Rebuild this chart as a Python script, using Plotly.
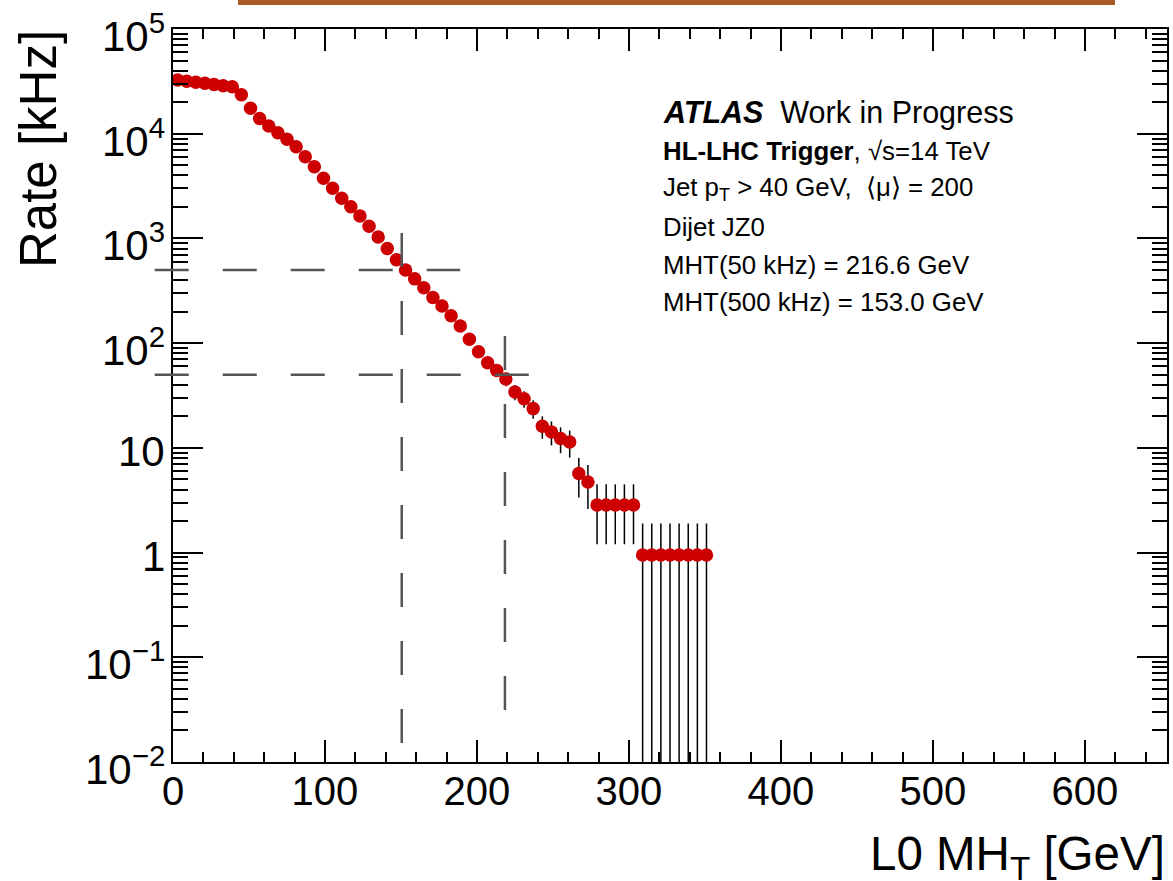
import math
import plotly.graph_objects as go

# ---------------- data ----------------
mht_bin_centers = [3, 9, 15, 21, 27, 33, 39, 45, 51, 57, 63, 69, 75, 81, 87, 93, 99,
                   105, 111, 117, 123, 129, 135, 141, 147, 153, 159, 165, 171, 177,
                   183, 189, 195, 201, 207, 213, 219, 225, 231, 237, 243, 249, 255,
                   261, 267, 273, 279, 285, 291, 297, 303, 309, 315, 321, 327, 333,
                   339, 345, 351]
rate_khz = [32600, 31800, 31000, 30300, 29600, 28700, 28100, 23600, 17500, 14000,
            11850, 10200, 8850, 7520, 6030, 4840, 3750, 3010, 2420, 2010, 1640, 1310,
            1030, 800, 626, 499, 411, 338, 273, 226, 183, 146, 109, 82.8, 65.0, 54.7,
            45.4, 34.1, 29.5, 23.7, 16.1, 14.2, 12.3, 11.35, 5.68, 4.73,
            2.84, 2.84, 2.84, 2.84, 2.84,
            0.946, 0.946, 0.946, 0.946, 0.946, 0.946, 0.946, 0.946]
rate_err_khz = [175.6, 173.4, 171.2, 169.3, 167.3, 164.8, 163.0, 149.4, 128.7, 115.1,
                105.9, 98.2, 91.5, 84.3, 75.5, 67.7, 59.6, 53.4, 47.8, 43.6, 39.4, 35.2,
                31.2, 27.5, 24.3, 21.7, 19.7, 17.9, 16.1, 14.6, 13.2, 11.8, 10.2, 8.85,
                7.84, 7.19, 6.55, 5.68, 5.28, 4.73, 3.90, 3.66, 3.41, 3.28, 2.32, 2.12,
                1.64, 1.64, 1.64, 1.64, 1.64,
                0.946, 0.946, 0.946, 0.946, 0.946, 0.946, 0.946, 0.946]

# y-axis tick labels (decades)
y_tick_exponents = [-2, -1, 0, 1, 2, 3, 4, 5]
y_tick_labels = ["10<sup>−2</sup>", "10<sup>−1</sup>", "1", "10",
                 "10<sup>2</sup>", "10<sup>3</sup>", "10<sup>4</sup>", "10<sup>5</sup>"]

# threshold guide lines (as drawn in the reference)
rate_thresholds_khz = [500, 50]
threshold_line_x_start = -12.0          # GeV (line starts a bit left of the axis)
threshold_line_x_end = [189.0, 238.0]   # GeV
mht_cut_positions = [150.5, 218.4]      # GeV
mht_cut_y_top = [1127, 117]             # kHz
mht_cut_y_bottom = [0.0145, 0.0313]     # kHz

info_lines = [
    "<b><i>ATLAS</i></b>  Work in Progress",
    "<b>HL-LHC Trigger</b>, √s=14 TeV",
    "Jet p<sub>T</sub> > 40 GeV,  ⟨μ⟩ = 200",
    "Dijet JZ0",
    "MHT(50 kHz) = 216.6 GeV",
    "MHT(500 kHz) = 153.0 GeV",
]

X_RANGE = [0, 654]
Y_LOG_RANGE = [-2.0003, 5.0003]

# ---------------- layout geometry ----------------
W, H = 1173, 881
ML, MR, MT, MB = 173, 6, 29, 119
PW = W - ML - MR
PH = H - MT - MB


def px_to_paper_x(px):
    return (px - ML) / PW


def px_to_paper_y(py):
    return (H - MB - py) / PH


def gev_to_paper_x(v):
    return (v - X_RANGE[0]) / (X_RANGE[1] - X_RANGE[0])


def rate_to_paper_y(v):
    return (math.log10(v) - Y_LOG_RANGE[0]) / (Y_LOG_RANGE[1] - Y_LOG_RANGE[0])


FONT = "Liberation Sans, Arial, Helvetica, sans-serif"
DASH = "34px,34px"
GUIDE_COLOR = "#555555"

fig = go.Figure()
fig.add_trace(go.Scatter(
    x=mht_bin_centers, y=rate_khz, mode="markers",
    marker=dict(symbol="circle", size=13.5, color="#CC0000", line=dict(width=0)),
    error_y=dict(type="data", array=rate_err_khz, arrayminus=rate_err_khz,
                 symmetric=False, color="black", thickness=1.5, width=0),
    showlegend=False,
))

shapes = []
for rate, xend in zip(rate_thresholds_khz, threshold_line_x_end):
    yp = rate_to_paper_y(rate)
    shapes.append(dict(type="line", xref="paper", yref="paper",
                       x0=gev_to_paper_x(threshold_line_x_start), x1=gev_to_paper_x(xend),
                       y0=yp, y1=yp,
                       line=dict(color=GUIDE_COLOR, width=2.5, dash=DASH)))
for xc, yt, yb in zip(mht_cut_positions, mht_cut_y_top, mht_cut_y_bottom):
    shapes.append(dict(type="line", xref="x", yref="y",
                       x0=xc, x1=xc, y0=yt, y1=yb,
                       line=dict(color=GUIDE_COLOR, width=2.5, dash=DASH)))
# orange bar at top of the image
shapes.append(dict(type="rect", xref="paper", yref="paper",
                   x0=px_to_paper_x(238), x1=px_to_paper_x(1115),
                   y0=px_to_paper_y(5), y1=px_to_paper_y(0),
                   line=dict(width=0), fillcolor="#A65A28"))

annotations = []
line_centers_px = [112, 151, 189, 227, 265, 302]
for i, (txt, cy) in enumerate(zip(info_lines, line_centers_px)):
    annotations.append(dict(
        text=txt, xref="paper", yref="paper",
        x=px_to_paper_x(661), y=px_to_paper_y(cy),
        xanchor="left", yanchor="middle", showarrow=False,
        font=dict(family=FONT, size=30.5 if i == 0 else 25.8, color="black"),
    ))
# y tick labels (ROOT style: centred slightly below each decade tick)
for e, lab in zip(y_tick_exponents, y_tick_labels):
    annotations.append(dict(
        text=lab, xref="paper", yref="y", x=px_to_paper_x(167), y=e,
        xanchor="right", yanchor="middle", yshift=-4, showarrow=False,
        font=dict(family=FONT, size=42, color="black"),
    ))
# axis titles (ROOT style: at the axis ends)
annotations.append(dict(
    text="Rate [kHz]", xref="paper", yref="paper",
    x=px_to_paper_x(39), y=px_to_paper_y(28), xanchor="center", yanchor="top",
    textangle=-90, showarrow=False, font=dict(family=FONT, size=51, color="black"),
))
annotations.append(dict(
    text="L0 MH<sub>T</sub> [GeV]", xref="paper", yref="paper",
    x=px_to_paper_x(1167), y=px_to_paper_y(857), xanchor="right", yanchor="middle",
    showarrow=False, font=dict(family=FONT, size=47.5, color="black"),
))

axis_common = dict(
    showline=True, linecolor="black", linewidth=2, mirror="ticks",
    ticks="inside", tickcolor="black", tickwidth=2,
    showgrid=False, zeroline=False, automargin=False,
    ticklabeloverflow="allow",
    tickfont=dict(family=FONT, size=40, color="black"),
)

fig.update_layout(
    width=W, height=H,
    margin=dict(l=ML, r=MR, t=MT, b=MB, pad=0),
    paper_bgcolor="white", plot_bgcolor="white",
    xaxis=dict(range=X_RANGE, dtick=100, tick0=0, ticklen=22,
               ticklabelstandoff=-7,
               minor=dict(dtick=20, ticks="inside", ticklen=10, tickcolor="black",
                          tickwidth=1.5, showgrid=False),
               **axis_common),
    yaxis=dict(type="log", range=Y_LOG_RANGE, dtick=1, ticklen=30,
               showticklabels=False,
               minor=dict(dtick="D1", ticks="inside", ticklen=15, tickcolor="black",
                          tickwidth=1.5, showgrid=False),
               **axis_common),
    shapes=shapes,
    annotations=annotations,
    showlegend=False,
)

fig.write_html(
    "out.html",
    config={"displayModeBar": False},
    post_script="document.body.style.margin='0px';document.body.style.padding='0px';",
)
